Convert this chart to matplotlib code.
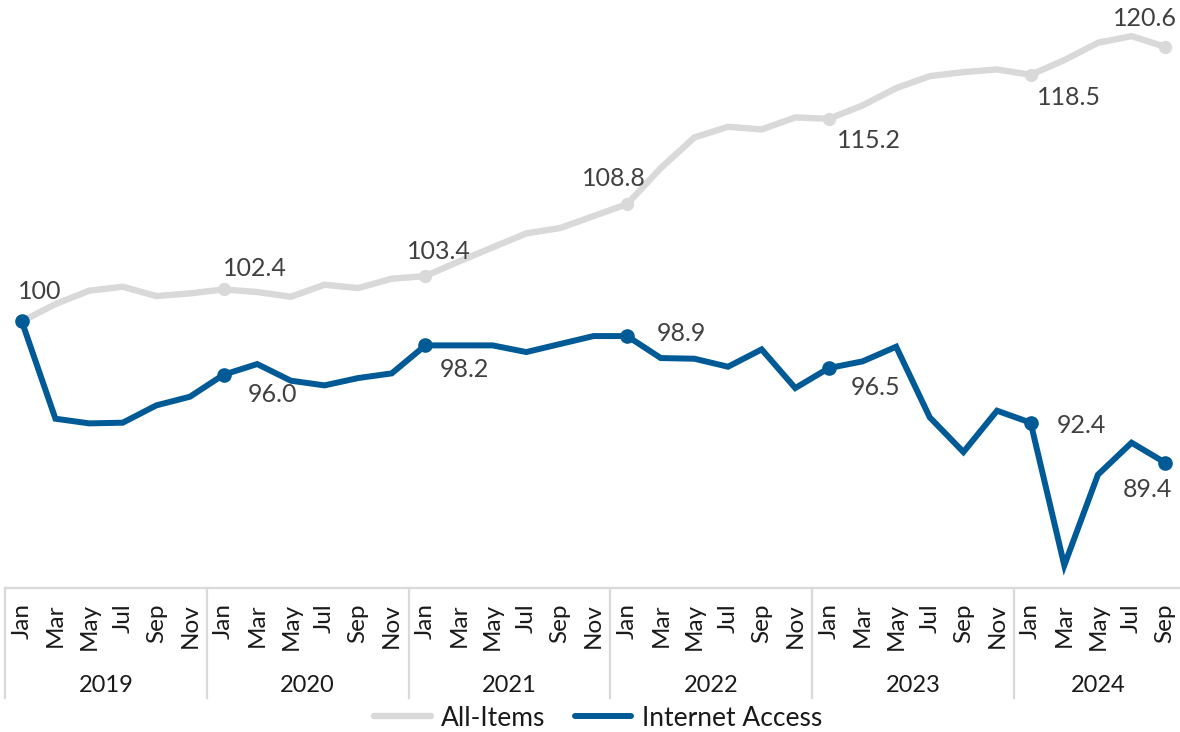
import matplotlib
matplotlib.use("Agg")
import matplotlib.pyplot as plt
from matplotlib.lines import Line2D

plt.rcParams['font.family'] = ['Lato', 'DejaVu Sans']

# bi-monthly index values, Jan 2019 = 100
years = ['2019', '2020', '2021', '2022', '2023', '2024']
months = ['Jan', 'Mar', 'May', 'Jul', 'Sep', 'Nov']
month_labels = months * 5 + months[:5]

all_items = [100, 101.3, 102.3, 102.6, 101.9, 102.1,
             102.4, 102.2, 101.85, 102.75, 102.5, 103.2,
             103.4, 104.5, 105.55, 106.6, 107.0, 107.9,
             108.8, 111.5, 113.8, 114.6, 114.4, 115.3,
             115.2, 116.2, 117.5, 118.4, 118.7, 118.9,
             118.5, 119.6, 120.9, 121.4, 120.6]

internet = [100, 92.7, 92.35, 92.4, 93.7, 94.35,
            96.0, 96.8, 95.55, 95.2, 95.75, 96.1,
            98.2, 98.2, 98.2, 97.7, 98.3, 98.9,
            98.9, 97.25, 97.2, 96.6, 97.9, 95.0,
            96.5, 97.0, 98.1, 92.8, 90.2, 93.3,
            92.4, 81.7, 88.5, 90.9, 89.4]

marked = [0, 6, 12, 18, 24, 30, 34]

GRAY = '#d9d9d9'
BLUE = '#005a96'
TEXT = '#404040'
DARK = '#1a1a1a'

W, H = 1180, 732
fig = plt.figure(figsize=(W / 100, H / 100), dpi=100)
# plot area in pixels: left 5, bottom axis line at 588, top at 0
ax = fig.add_axes([5 / W, (H - 588) / H, 1177 / W, 588 / H])

x = list(range(len(all_items)))
ax.plot(x, all_items, color=GRAY, lw=4.6, marker='o', ms=8.5,
        markevery=marked[1:], solid_capstyle='round', solid_joinstyle='miter', zorder=2)
ax.plot(x, internet, color=BLUE, lw=4.3, marker='o', ms=9.5,
        markevery=marked, solid_capstyle='round', solid_joinstyle='miter', zorder=3)

ax.set_xlim(-0.5, len(x) - 0.5)
ax.set_ylim(80, 80 + 588 / 13.33)

# data labels: (series, index, dx px, dy px)
labels = [
    (all_items, 0, 18, 30, '{:.0f}'),
    (all_items, 6, 31, 21, '{:.1f}'),
    (all_items, 12, 14, 25, '{:.1f}'),
    (all_items, 18, -13, 26, '{:.1f}'),
    (all_items, 24, 40, -22, '{:.1f}'),
    (all_items, 30, 38, -23, '{:.1f}'),
    (all_items, 34, -20, 28, '{:.1f}'),
    (internet, 6, 49, -20, '{:.1f}'),
    (internet, 12, 39, -24, '{:.1f}'),
    (internet, 18, 54, 3, '{:.1f}'),
    (internet, 24, 47, -19, '{:.1f}'),
    (internet, 30, 51, -3, '{:.1f}'),
    (internet, 34, -18, -27, '{:.1f}'),
]
for series, i, dx, dy, fmt in labels:
    ax.annotate(fmt.format(series[i]), (i, series[i]), xytext=(dx, dy),
                textcoords='offset pixels', ha='center', va='center',
                fontsize=18, color=TEXT, zorder=5)

# category axis
for side in ['top', 'right', 'left']:
    ax.spines[side].set_visible(False)
ax.spines['bottom'].set_color(GRAY)
ax.spines['bottom'].set_linewidth(1.6)
ax.set_yticks([])
ax.set_xticks(x)
ax.set_xticklabels(month_labels, rotation=90, fontsize=17.5, color=DARK)
ax.tick_params(axis='x', length=0, pad=11)

trans = ax.get_xaxis_transform()
sep_bottom = (588 - 698) / 588
for k in range(len(years) + 1):
    xs = k * 6 - 0.5
    ax.plot([xs, xs], [0, sep_bottom], color=GRAY, lw=1.6,
            transform=trans, clip_on=False)
for k, yr in enumerate(years):
    n = min(6, len(x) - k * 6)
    ax.text(k * 6 + (n - 1) / 2, (588 - 685) / 588, yr, transform=trans,
            ha='center', va='center', fontsize=17, color=DARK)

handles = [Line2D([], [], color=GRAY, lw=4.6, solid_capstyle='round'),
           Line2D([], [], color=BLUE, lw=4.3, solid_capstyle='round')]
fig.legend(handles, ['All-Items', 'Internet Access'], loc='center',
           bbox_to_anchor=(598 / W, 1 - 718 / H), ncol=2, frameon=False,
           fontsize=19, handlelength=2.15, handletextpad=0.4,
           columnspacing=1.1, labelcolor=DARK, borderpad=0)

fig.savefig('out.png', dpi=100, facecolor='white')
